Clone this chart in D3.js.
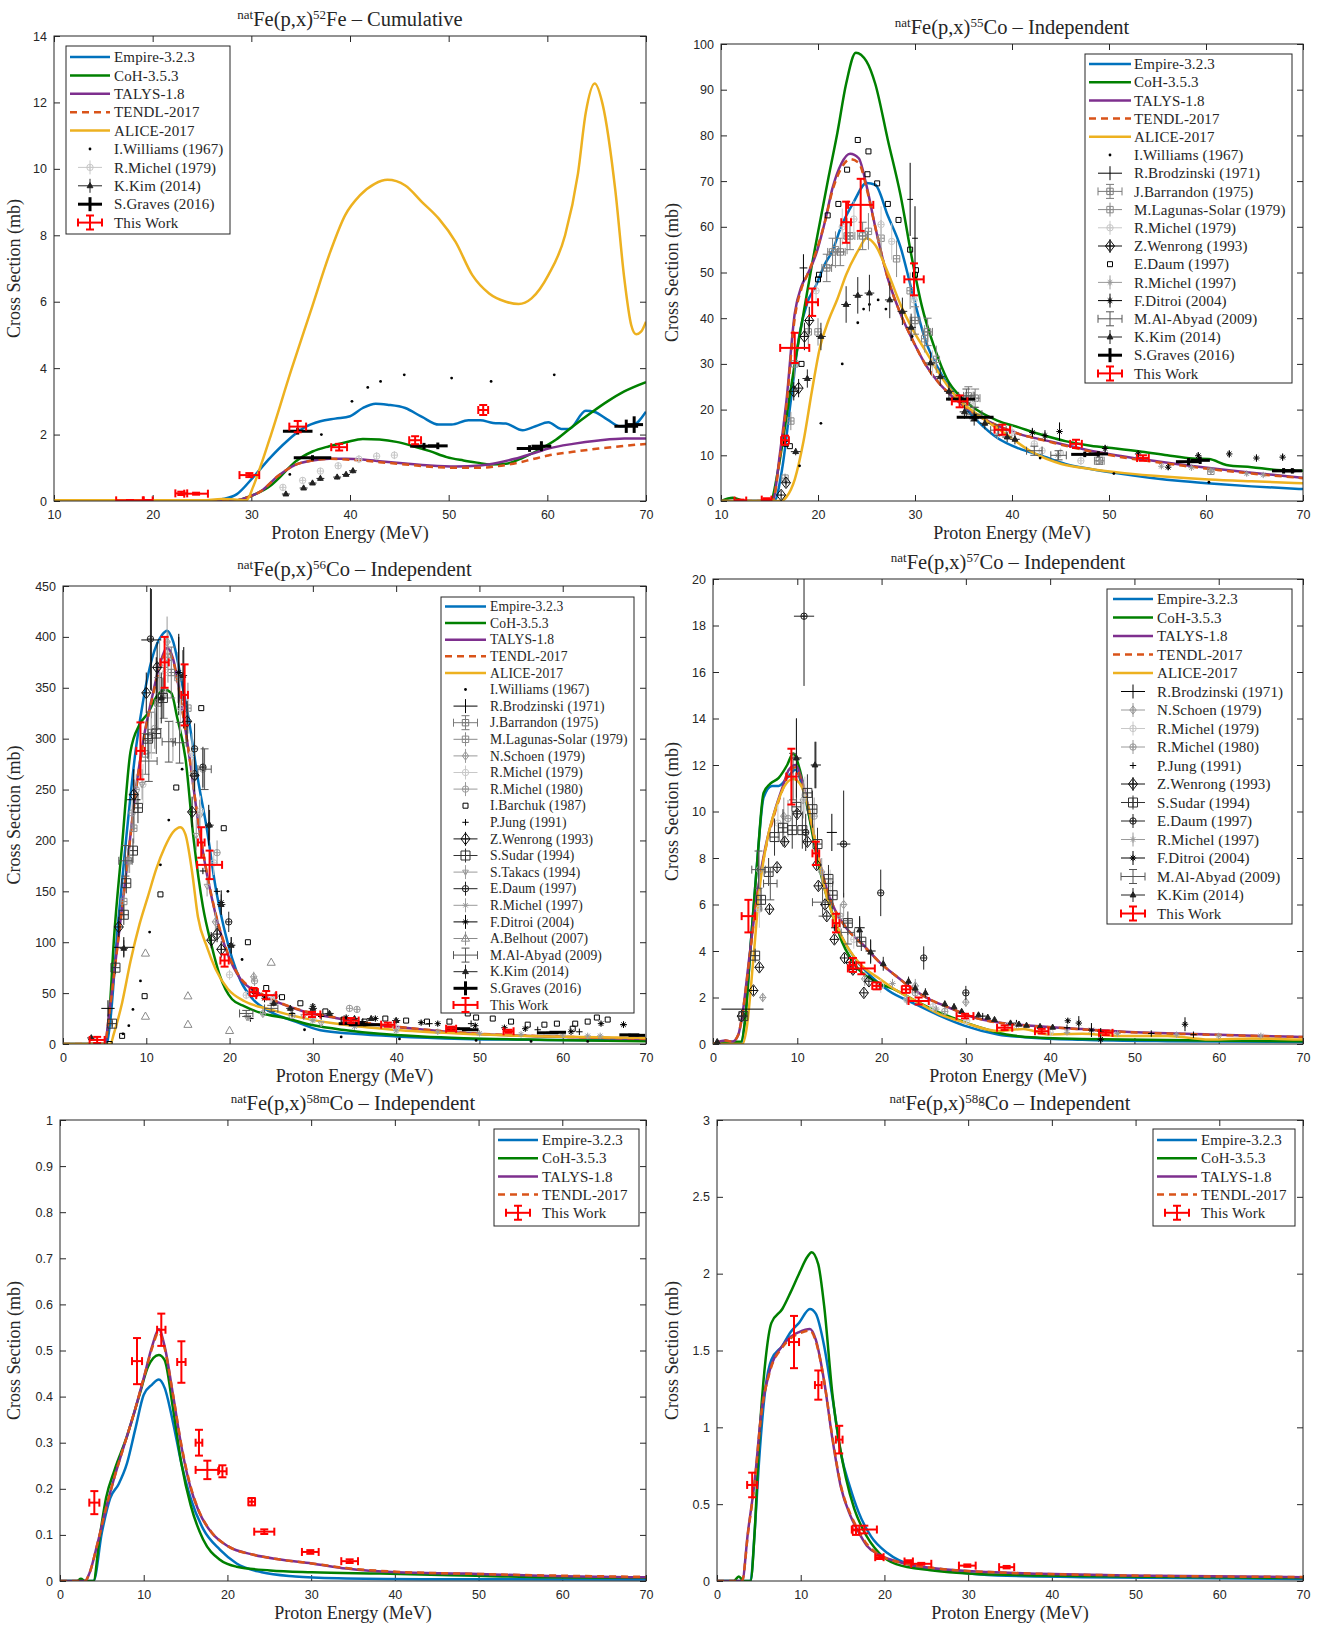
<!DOCTYPE html>
<html>
<head>
<meta charset="utf-8">
<script src="https://cdn.jsdelivr.net/npm/d3@7"></script>
<style>
body { margin: 0; background: #fff; }
text { font-family: "Liberation Serif", "Times New Roman", serif; fill: #262626; }
.tick text { font-family: "Liberation Sans", Arial, sans-serif; font-size: 12.5px; fill: #262626; }
.tick line { stroke: #262626; }
</style>
</head>
<body>
<svg id="fig" width="1323" height="1625"></svg>
<script>
// ---------- model curves: [energy MeV, cross section mb] ----------
const fe52Empire = [[10,0],[26,0],[27,0.05],[28.5,0.2],[30.2,0.72],[31.9,1.3],[33.6,1.8],[35.3,2.2],[37,2.4],[38.5,2.48],[40,2.55],[41.3,2.8],[42.6,2.93],[43.8,2.9],[45.6,2.8],[47.3,2.53],[49,2.3],[50.3,2.3],[52,2.43],[53.2,2.43],[54.5,2.35],[55.8,2.33],[57.5,2.13],[58.8,2.25],[60.1,2.37],[61.4,2.17],[62.2,2.17],[63.9,2.72],[64.8,2.68],[66.1,2.45],[67.4,2.25],[68.6,2.27],[70,2.69]];
const fe52CoH = [[10,0],[28,0],[29,0.05],[30.2,0.18],[31.9,0.45],[33,0.75],[34.4,1.17],[36.2,1.49],[37.9,1.65],[39.6,1.77],[41.3,1.87],[43,1.85],[44.7,1.78],[46.4,1.65],[48.1,1.5],[49.8,1.32],[51.5,1.22],[53.2,1.14],[54.1,1.1],[55.8,1.12],[57.5,1.3],[59.2,1.55],[60.9,1.85],[62.6,2.25],[64.4,2.65],[66.1,3.0],[67.8,3.3],[70,3.58]];
const fe52Talys = [[10,0],[28,0],[29.5,0.1],[31,0.3],[32.7,0.75],[34.4,1.08],[36.2,1.22],[37.9,1.27],[39.6,1.27],[41.3,1.25],[43,1.2],[45.6,1.13],[48.1,1.07],[50.7,1.04],[53.2,1.07],[55,1.15],[56.7,1.27],[58.4,1.42],[60.1,1.58],[62.6,1.72],[65.2,1.82],[67.8,1.88],[70,1.88]];
const fe52Tendl = [[10,0],[28,0],[29.5,0.1],[31,0.3],[32.7,0.75],[34.4,1.08],[36.2,1.22],[37.9,1.27],[39.6,1.25],[41.3,1.22],[43,1.17],[45.6,1.1],[48.1,1.03],[50.7,1.0],[53.2,1.0],[55,1.05],[57,1.15],[58.4,1.25],[60.1,1.37],[62.6,1.48],[65.2,1.58],[67.8,1.66],[70,1.72]];
const fe52Alice = [[10,0.02],[25,0.02],[27,0.06],[28.5,0.04],[29.5,0.02],[30.2,0.44],[31,1.1],[32,2.0],[34,3.9],[36,5.7],[38,7.5],[39.5,8.6],[41,9.2],[42.5,9.55],[43.8,9.67],[45.6,9.5],[47.3,9.0],[49,8.5],[50.7,7.8],[52.4,6.8],[54.1,6.25],[55.8,6.0],[57.1,5.93],[58.4,6.1],[60.1,6.8],[61.8,8.0],[63.1,9.85],[63.9,11.7],[64.8,12.57],[65.6,11.95],[66.9,9.33],[67.8,6.7],[68.5,5.3],[69,5.02],[69.5,5.1],[70,5.4]];

const co55Empire = [[10,0],[15.5,0],[16.3,7],[17.2,22],[18.1,36.6],[18.9,43.4],[19.8,47.2],[20.7,51.8],[21.5,54.8],[22.4,60.1],[23.7,65.5],[25,69.6],[25.9,69.2],[27.2,62.4],[28.5,55.6],[29.8,45],[31.1,35],[32.4,29],[34.2,22.9],[36.4,17.6],[38.5,13.8],[40.7,11.5],[42.9,10],[45.5,8.1],[48.1,7],[50.7,6.1],[54.2,5.1],[57.7,4.3],[61.2,3.7],[64.7,3.2],[70,2.6]];
const co55CoH = [[10,0],[11.2,0.7],[12.5,0],[15.1,0],[15.9,7],[16.75,18.4],[17.6,30],[18.5,41],[19.4,52],[20.2,61],[21.1,71],[22,80.6],[22.9,91.3],[23.9,98.1],[25,96.2],[25.9,91.3],[27.2,79],[28.5,67],[29.8,51.8],[30.7,42.7],[32,33.6],[33.3,26.7],[34.6,23],[36.4,19.9],[38.5,17.6],[40.7,16.1],[42.9,14.6],[45.5,13.1],[48.1,12.1],[50.7,11.5],[53.4,10.8],[56,10],[58.6,9.3],[60.3,9.2],[62.1,7.9],[64.7,7.4],[67.3,6.8],[70,6.6]];
const co55Talys = [[10,0],[15.3,0],[16.1,10.8],[16.75,22],[17.6,41],[18.3,47],[18.9,49.5],[19.8,54],[20.7,61],[21.5,68.5],[22.4,73.8],[23.3,76],[24.2,75],[25,69],[25.9,60],[27.2,48.7],[28.5,41],[29.8,35],[31.1,29.8],[32.4,26],[34.2,22.2],[36.4,18.8],[38.5,16.5],[40.7,14.7],[43.8,13.1],[47.3,11.4],[50.7,10],[54.2,8.9],[57.7,7.9],[61.2,7],[64.7,6.2],[70,5.1]];
const co55Tendl = [[10,0],[15.3,0],[16.1,10],[16.75,21],[17.6,40],[18.3,46.5],[18.9,49.5],[19.8,54.5],[20.7,61],[21.5,68],[22.4,72.8],[23.3,74.8],[24.2,74],[25,68.5],[25.9,60],[27.2,48.7],[28.5,41],[29.8,35],[31.1,29.8],[32.4,26],[34.2,22.2],[36.4,18.8],[38.5,16.5],[40.7,14.7],[43.8,13],[47.3,11.2],[50.7,9.8],[54.2,8.7],[57.7,7.7],[61.2,6.8],[64.7,6.0],[70,5.0]];
const co55Alice = [[10,0],[16.2,0],[16.75,0.9],[17.6,4.7],[18.5,13],[19.4,24.4],[20.2,33.6],[21.1,39.6],[22,44.2],[22.9,49.5],[24.2,55],[25,57.5],[25.9,56],[27.2,50],[28.5,43],[29.8,37.4],[31.1,32.8],[32.4,28.2],[34.2,22.9],[36.8,18.4],[39.4,14.6],[42,10.8],[45.1,8.1],[48.1,7],[51.6,6.1],[56,5.3],[60.3,4.7],[64.7,4.3],[70,3.9]];

const co56Empire = [[0,0],[5.2,0],[5.6,17],[6.6,118],[7.6,203],[8.7,287],[9.7,341],[10.7,379],[11.9,402],[12.5,406],[13.2,396],[14.2,358],[15.2,314],[16.2,260],[17.3,210],[18.3,155],[19.3,115],[20.3,84.5],[21.3,62.5],[22.8,44],[24.8,32],[27.9,22],[30.9,13.5],[35,10],[40,7.4],[48.1,5],[58.2,4],[70,3.4]];
const co56CoH = [[0,0],[5.0,0],[5.6,34],[6.1,101],[7.1,196],[8.1,287],[9.2,314],[10.2,325],[11.2,341],[12.2,348],[13,345],[13.7,321],[14.7,281],[15.7,200],[16.8,135],[17.8,98],[18.8,68],[20.3,44],[21.8,37],[23.8,30.4],[26.9,25],[29.9,18.6],[34,13.5],[38,10],[43.1,7.4],[48.1,5.7],[58.2,4],[70,2.7]];
const co56Talys = [[0,0],[5.0,0],[5.6,34],[6.6,101],[7.6,169],[8.7,247],[9.7,301],[10.7,341],[11.7,375],[12.5,389],[13.2,379],[14.2,335],[15.2,281],[16.2,220],[17.3,166],[18.3,128],[19.8,88],[21.3,64],[23.3,51],[25.9,40.6],[28.9,32],[32.9,25.4],[38,18.6],[43.1,14.2],[48.1,10.8],[58.2,7.4],[70,5]];
const co56Tendl = [[0,0],[5.0,0],[5.6,33],[6.6,100],[7.6,168],[8.7,245],[9.7,300],[10.7,339],[11.7,372],[12.5,386],[13.2,377],[14.2,334],[15.2,281],[16.2,221],[17.3,167],[18.3,129],[19.8,89],[21.3,65],[23.3,52],[25.9,41],[28.9,32.5],[32.9,25.8],[38,19],[43.1,14.5],[48.1,11],[58.2,7.6],[70,5.2]];
const co56Alice = [[0,0],[5.7,0],[6.1,10],[7.1,40.6],[8.1,81],[9.2,118],[10.2,145],[11.2,172],[12.2,193],[13.2,208],[14.1,213],[14.7,206],[15.5,169],[16.2,125],[17.3,95],[18.3,74],[19.8,54],[21.8,42],[24.8,34],[28.9,25.4],[34,18.6],[40.5,13.5],[48.1,10],[58.2,7.4],[70,6]];

const co57Empire = [[0,0],[3.3,0],[3.8,1.0],[4.5,4.4],[5.3,8.1],[6,10.6],[7,11.1],[7.8,11.1],[8.8,11.45],[9.8,11.8],[10.5,11.2],[11.3,10],[12.3,8.3],[13.3,6.8],[14.3,5.45],[15.3,4.6],[16.8,3.7],[18.8,2.9],[20.8,2.3],[23.8,1.75],[26.8,1.23],[29.8,0.79],[33.8,0.41],[37.8,0.27],[43.8,0.18],[53.9,0.12],[70,0.09]];
const co57CoH = [[0,0],[2,0.1],[3.3,0.1],[3.8,1.0],[4.5,4.4],[5.3,8.1],[6,10.8],[6.8,11.2],[7.8,11.45],[8.8,12],[9.5,12.5],[10.3,11.8],[11.3,10],[12.3,8.1],[13.3,6.6],[14.3,5.45],[15.3,4.4],[16.3,3.7],[17.3,3.2],[18.3,2.9],[19.8,2.6],[21.8,2.3],[23.8,1.9],[26.3,1.45],[28.8,1.08],[31.8,0.7],[34.8,0.41],[38.8,0.27],[43.8,0.22],[48.8,0.19],[58.9,0.15],[70,0.12]];
const co57Talys = [[0,0],[1.5,0.15],[2.3,0.1],[3,0.4],[3.5,1.3],[4.3,3.7],[5.3,6.6],[6.3,8.6],[7.3,10],[8.3,11.1],[9,11.8],[9.8,12],[10.5,11.4],[11.3,10.2],[12.3,8.4],[13.3,6.9],[14.3,5.9],[15.8,5.0],[17.8,4.27],[19.8,3.5],[21.8,2.9],[23.8,2.34],[25.8,1.9],[27.8,1.6],[30.8,1.16],[33.8,0.93],[37.8,0.79],[43.8,0.64],[48.8,0.53],[58.9,0.41],[70,0.3]];
const co57Tendl = [[0,0],[1.5,0.15],[2.3,0.1],[3,0.4],[3.5,1.3],[4.3,3.6],[5.3,6.5],[6.3,8.5],[7.3,9.9],[8.3,11.0],[9,11.7],[9.8,11.9],[10.5,11.3],[11.3,10.1],[12.3,8.4],[13.3,6.9],[14.3,5.9],[15.8,5.0],[17.8,4.25],[19.8,3.5],[21.8,2.9],[23.8,2.33],[25.8,1.9],[27.8,1.6],[30.8,1.16],[33.8,0.92],[37.8,0.78],[43.8,0.63],[48.8,0.52],[58.9,0.4],[70,0.3]];
const co57Alice = [[0,0],[3.5,0],[4,0.7],[4.8,3.7],[5.5,6.6],[6.5,8.9],[7.5,10.2],[8.5,11.1],[9.5,11.4],[10.3,11.2],[11.3,10.2],[12.3,8.4],[13.3,6.6],[14.3,5.45],[15.3,4.6],[17.3,3.5],[19.8,2.8],[21.8,2.3],[23.8,1.9],[26.8,1.3],[29.8,0.93],[33.8,0.56],[36.8,0.64],[39.8,0.41],[43.8,0.44],[48.8,0.34],[53.9,0.34],[58.9,0.19],[63.9,0.24],[70,0.19]];

const co58mEmpire = [[0,0],[4,0],[5,0.105],[6,0.18],[7,0.21],[8,0.255],[9,0.33],[10,0.404],[11,0.426],[11.8,0.437],[12.5,0.419],[13.5,0.344],[14.5,0.255],[15.6,0.18],[17.1,0.113],[19.1,0.068],[21.1,0.038],[24.1,0.019],[28.1,0.01],[33.2,0.006],[43.2,0.004],[70,0.003]];
const co58mCoH = [[0,0],[2,0],[2.5,0.005],[3,0],[4,0],[4.7,0.09],[5.5,0.18],[6.5,0.24],[8,0.314],[9.5,0.404],[10.5,0.464],[11.8,0.49],[12.5,0.479],[13.5,0.374],[14.5,0.255],[15.6,0.165],[17.1,0.09],[19.1,0.046],[21.1,0.031],[25.1,0.023],[30.1,0.019],[38.2,0.016],[48.3,0.012],[58.3,0.008],[70,0.007]];
const co58mTalys = [[0,0],[3,0],[3.5,0.016],[4.5,0.083],[5.5,0.158],[6.5,0.225],[8,0.314],[9,0.374],[10,0.44],[11,0.509],[11.8,0.546],[12.5,0.509],[13.5,0.404],[14.5,0.292],[15.6,0.202],[16.6,0.15],[18.1,0.105],[20.1,0.075],[23.1,0.057],[26.1,0.047],[30.1,0.038],[34.2,0.027],[40.2,0.019],[48.3,0.016],[58.3,0.011],[70,0.008]];
const co58mTendl = [[0,0],[3,0],[3.5,0.016],[4.5,0.083],[5.5,0.158],[6.5,0.225],[8,0.314],[9,0.374],[10,0.44],[11,0.505],[11.8,0.54],[12.5,0.505],[13.5,0.404],[14.5,0.295],[15.6,0.205],[16.6,0.152],[18.1,0.106],[20.1,0.075],[23.1,0.057],[26.1,0.047],[30.1,0.038],[34.2,0.028],[40.2,0.02],[48.3,0.016],[58.3,0.012],[70,0.009]];

const co58gEmpire = [[0,0],[4,0],[4.5,0.32],[5,0.76],[5.8,1.26],[6.5,1.44],[7.8,1.53],[8.8,1.62],[9.8,1.68],[11.1,1.77],[11.8,1.74],[12.8,1.53],[13.8,1.19],[14.8,0.83],[15.9,0.61],[16.9,0.45],[18.4,0.29],[20.4,0.18],[23.4,0.1],[28.5,0.058],[33.5,0.036],[43.6,0.025],[70,0.013]];
const co58gCoH = [[0,0],[2,0],[2.6,0.03],[3.2,0],[4,0],[4.5,0.32],[5,0.88],[5.8,1.44],[6.5,1.68],[7.8,1.77],[8.8,1.88],[9.8,2.0],[10.8,2.11],[11.3,2.14],[12.1,2.06],[12.8,1.79],[13.8,1.21],[14.6,0.9],[15.4,0.67],[16.4,0.47],[17.4,0.34],[19.4,0.18],[21.4,0.11],[25.5,0.07],[30.5,0.047],[38.6,0.036],[48.7,0.03],[70,0.02]];
const co58gTalys = [[0,0],[3,0],[3.7,0.32],[4.5,0.65],[5.3,1.1],[6.3,1.37],[7.8,1.53],[8.8,1.59],[9.8,1.62],[11.1,1.64],[11.8,1.57],[12.8,1.3],[13.8,0.92],[14.8,0.61],[15.9,0.43],[16.9,0.32],[17.9,0.23],[19.4,0.17],[22.4,0.114],[26.5,0.08],[32.5,0.058],[38.6,0.047],[48.7,0.036],[70,0.025]];
const co58gTendl = [[0,0],[3,0],[3.7,0.31],[4.5,0.64],[5.3,1.09],[6.3,1.36],[7.8,1.52],[8.8,1.58],[9.8,1.61],[11.1,1.63],[11.8,1.56],[12.8,1.3],[13.8,0.93],[14.8,0.62],[15.9,0.44],[16.9,0.33],[17.9,0.24],[19.4,0.17],[22.4,0.115],[26.5,0.08],[32.5,0.058],[38.6,0.047],[48.7,0.036],[70,0.026]];

// ---------- measurements: [E, sigma, dSigma, dE] ----------
const fe52Williams = [[33.9,0.8],[37.1,2.0],[40.2,3.0],[41.8,3.42],[43.1,3.6],[45.5,3.8],[50.3,3.7],[54.3,3.6],[60.7,3.8]];
const fe52Michel79 = [[33.2,0.41,0.08],[35.2,0.62,0.08],[37.0,0.9,0.1],[38.8,1.06,0.1],[40.9,1.26,0.12],[42.7,1.35,0.12],[44.5,1.38,0.12]];
const fe52Kim = [[33.5,0.21,0.05,0.4],[35.3,0.39,0.05,0.4],[36.2,0.54,0.06,0.4],[37.0,0.68,0.07,0.4],[38.7,0.72,0.07,0.4],[39.6,0.8,0.07,0.4],[40.3,0.91,0.08,0.4]];
const fe52Graves = [[34.7,2.1,0.1,1.5],[36.2,1.3,0.08,1.9],[47.5,1.65,0.1,1.4],[48.9,1.66,0.1,1.0],[58.2,1.58,0.1,1.3],[59.4,1.65,0.15,1.0],[68.0,2.25,0.2,1.2],[68.8,2.3,0.25,0.9]];
const fe52ThisWork = [[17.7,0.02,0.01,1.4],[19.5,0.02,0.01,0.5],[22.9,0.23,0.05,0.6],[24.4,0.22,0.03,1.2],[29.8,0.78,0.06,1.0],[34.7,2.24,0.17,0.85],[38.9,1.62,0.1,0.8],[46.6,1.83,0.12,0.6],[53.5,2.74,0.15,0.5]];

const co55Williams = [[18.1,7.7],[20.3,17],[22.5,30],[24.1,39],[24.7,42],[25.3,43],[26.2,44],[27,42],[29.7,36],[42.9,9.4],[50.5,6],[60.3,4.1]];
const co55Brodzinski = [[18.5,51,3,0.4],[29.5,66,8,0.3],[30.0,57.5,7,0.3]];
const co55Barrandon = [[20.9,51,3,0.5],[21.5,54.5,3,0.5],[22.3,54.5,3,0.5],[23.3,58,3,0.5],[24.6,58,3,0.5],[30,39.5,3,0.5],[31.3,37,3,0.5],[35.5,23,2,0.5],[36.2,22.5,2,0.5],[49,8.8,0.8,0.5]];
const co55Lagunas = [[16.6,5,1],[17.2,17.5,2],[17.6,30,3],[19,37,3],[20,37,3],[21.8,55,4],[23,58,4],[25.2,59,4],[26.5,57.5,4],[28.1,53,4],[29.5,46,4],[31,35.5,3],[32.2,31,3],[60.5,6.5,0.5]];
const co55Michel79 = [[19.8,46,3],[22.5,60,4],[23.7,61.7,4],[26.5,60.5,4],[27.6,56.8,4],[29.9,44,3],[31.8,30,3],[36,22,2],[40,15,1.5],[42.3,12.5,1],[43.1,11,1],[45,10.5,1],[47.1,8.8,1]];
const co55Wenrong = [[16.2,1.3,0.2],[16.7,4,0.4],[17.5,24,2],[18.0,24.7,2],[18.6,36,3],[19.1,39.5,3]];
const co55Daum = [[16.7,12.5],[17.1,12],[18.3,30],[20.0,48.5],[20.1,49.5],[21.0,62.5],[22.1,65],[23.0,72.5],[24.1,79],[25.1,71.5],[25.2,76.5],[26.1,69.5],[27.2,65],[28.3,61.5],[29.5,55],[30.0,49.5],[30.1,50.5]];
const co55Michel97 = [[38.5,14.5,1],[44.7,10,1],[49.1,8.7,0.7],[55.4,7.6,0.6],[58.5,7.3,0.6],[60.5,6.6,0.5],[64.2,6,0.5],[65.9,5.7,0.5]];
const co55Ditroi = [[42.1,15,1],[43.4,14.3,1.2],[44.9,15.2,2],[49.6,11.5,0.8],[53,10.3,0.8],[56.1,7.4,0.6],[59.2,9.9,0.8],[62.4,10.3,0.8],[65.2,9.4,0.8],[67.9,9.6,0.8]];
const co55AlAbyad = [[35.3,23,1.5,0.8],[36.1,19,1.5,0.8],[38.6,15.5,1.2,0.8],[42.3,11,1,0.8],[44.8,10,1,0.8]];
const co55Kim = [[17.7,10.8,0.8,0.5],[18.9,26.8,2,0.5],[20.3,36,3,0.5],[22.9,43,4,0.5],[24.1,45,4,0.5],[25.3,45.5,4,0.5],[27.4,44,4,0.5],[28.7,41.5,3,0.5],[29.6,38,3,0.5],[31.6,30.2,2.5,0.5],[32.6,27.2,2,0.5],[33.5,24,2,0.5],[35.1,19.5,1.5,0.5],[36.1,18,1.5,0.5],[37.2,17,1.3,0.5],[39.5,14,1.1,0.5],[40.3,13.5,1.1,0.5]];
const co55Graves = [[34.7,22.3,0.8,1.5],[36.2,18.3,0.8,1.9],[47.5,10.2,0.6,1.4],[48.9,10.3,0.6,1.0],[58.2,8.6,0.8,1.3],[59.4,8.9,0.8,1.0],[68.0,6.6,0.6,1.2],[68.9,6.6,0.6,1.0]];
const co55ThisWork = [[12.0,0.1,0.2,0.6],[14.7,0.3,0.3,0.5],[16.6,13.3,1,0.4],[17.6,33.5,3.3,1.5],[19.4,43.5,3,0.6],[22.9,61,4.5,0.5],[24.4,64.8,5.7,1.3],[29.9,48.5,3.5,1.0],[34.6,21.8,1.3,0.8],[39.0,15.6,1.1,0.8],[46.6,12.5,0.9,0.6],[53.5,9.4,0.6,0.6]];

const co56Williams = [[7.2,10],[7.9,18],[8.4,34],[9.3,62],[10.4,110],[11.7,176],[12.7,220],[14.3,270],[19.8,150],[21.5,83],[29,14],[33.4,7],[40.4,5],[49.6,3.5],[56.2,2.5],[63,2.5]];
const co56Brodzinski = [[10.6,397,50,1.2],[11.2,340,40],[13.9,363,40],[14.5,350,40],[8.5,240,30,0.8],[7.3,95,10,1.2],[5.4,35,8,0.8]];
const co56Barrandon = [[9.9,285,20],[10.6,306,20],[11.4,335,25],[12.1,345,25],[13,365,25]];
const co56Lagunas = [[7.3,140,10],[7.8,180,12],[8.5,212,15],[12.6,380,25],[13.8,360,25],[15,330,25]];
const co56Schoen = [[11.6,372,25],[12.5,395,25],[16.4,225,15],[18.3,120,10],[22.9,66,5],[24.0,30,3],[25.5,47,4]];
const co56Michel79 = [[9.6,255,20],[10.6,300,20],[12.3,365,25],[14.1,330,25],[15.5,285,20],[16.5,229,15],[18.1,178,12],[20,68,5],[22,48,4],[25,45,4],[30,25,2],[35,20,2],[40,16,1.5]];
const co56Michel80 = [[8.3,227,15],[8.8,250,15],[11,310,20],[16.8,270,20],[18.5,188,12],[23,62,5],[27.5,28,3],[34.4,35,3],[35.3,34,3]];
const co56Barchuk = [[5.6,0],[7.1,8],[9.8,47],[11.7,147],[13.6,252],[16.6,330],[19.3,212],[22.2,100],[23.0,52],[24.4,55],[26.3,46],[28.5,40],[31.5,32],[33.7,24],[36.2,22],[38.7,25],[41.2,23],[43.7,22],[46.4,22],[48.6,30],[49.6,26],[51.6,25],[53.8,22],[55.8,19],[57.8,19],[59.3,20],[61.2,15],[61.5,20],[63,22],[64.1,26],[65.4,24]];
const co56Jung = [[16.8,170],[18.5,150],[22.5,25],[27.5,30],[31,27],[36,22],[44,20],[49,20],[57,14],[62,12],[67.3,19]];
const co56Wenrong = [[6.7,115,10],[8.5,245,15],[10.0,345,20],[11.3,370,25],[14.9,317,20],[15.5,228,15],[15.8,264,15],[17.8,102,8],[18.5,108,8],[19,93,8]];
const co56Sudar = [[5.9,20,3],[6.3,75,6],[7.3,127,10],[7.6,158,10],[8.4,190,12],[9.0,232,15],[10.2,300,20],[11.2,305,20],[12.0,340,20]];
const co56Takacs = [[8.0,180,12],[9.5,255,15],[13.2,298,20],[15.6,265,15],[16.0,205,15],[17.3,155,10],[22.1,26,3],[28.9,27,3],[31,20,2]];
const co56Daum = [[10.5,398,50],[15.8,290,25],[16.8,272,20],[19.9,120,10],[15.8,263,15]];
const co56Michel97 = [[22.3,26,3],[30,23,2],[35,17,2],[40,13,1.5],[45,12,1],[50,10.5,1],[55,9.5,1],[60,9,1],[63,8,1],[64.5,8,1]];
const co56Ditroi = [[13.9,365,35],[17.5,215,20],[19.0,139,12],[20.2,97,8],[24.2,45,4],[30,37,3],[34,26,2],[37.5,25,2],[40,23,2],[43,21,2],[45,20,2],[49.5,18,2],[53,16,2],[55.5,15,2],[61,12,1],[64.6,20,2],[67.3,19,2]];
const co56Belhout = [[9.9,89],[9.9,27],[15,47],[15,19],[20,13],[25,80]];
const co56AlAbyad = [[7.5,180,15,0.8],[10.3,278,20,1],[12.7,297,20,0.8],[14.0,296,20,0.8],[17.0,270,20,0.8],[22,30,3,0.8],[25,35,3,0.8]];
const co56Kim = [[3.4,6,3,0.5],[7.3,94,8,0.5],[11.8,340,25,0.5],[14.4,362,25,0.5],[17.6,215,15,0.5],[19.0,137,10,0.5],[20.2,97,8,0.5],[25.3,40,3,0.5],[27.3,35,3,0.5],[30,35,3,0.5],[32,30,2,0.5],[35,25,2,0.5],[37,25,2,0.5],[40,23,2,0.5]];
const co56Graves = [[34.7,20,1.5,1.6],[36.2,19,1.5,1.9],[47.5,15,1.2,1.4],[48.9,14,1.2,1.0],[58.2,11,1,1.3],[59.4,11.5,1,1.0],[68,9,1,1.2],[68.9,8.5,1,1.0]];
const co56ThisWork = [[4.1,4,3,0.9],[9.3,288,28,0.5],[12.2,375,25,0.5],[14.6,343,30,0.4],[16.6,198,15,0.4],[17.6,176,14,1.5],[19.4,82,6,0.5],[22.9,51,4,0.5],[24.4,48,4,1.2],[29.9,29,2.5,1.0],[34.6,23,2.5,0.9],[39.0,19,2,0.8],[46.6,15,2,0.6],[53.5,12.5,1.5,0.6]];

const co57Brodzinski = [[3.5,1.5,0,2.5],[12.2,12.0,1.0,0.6],[14.1,9.1,0.8,0.6],[17.4,5.0,0.5,0.6],[18.7,4.0,0.5,0.6],[9.9,12.3,1.7,0.6]];
const co57Schoen = [[5.9,2.0,0.2],[8.4,9.8,0.8],[10.7,10.5,0.8],[12.9,7.4,0.6],[15.5,6.0,0.5],[18,2.8,0.3],[24,2.5,0.3],[30,1.8,0.2]];
const co57Michel79 = [[5.5,5.8,0.8],[7.7,9.5,0.8],[10.9,10.7,0.8],[13.9,6.9,0.6],[16.7,4.5,0.4],[19.9,2.5,0.3],[23,1.9,0.2],[26.1,1.6,0.2],[30.1,1.0,0.1],[35,0.8,0.1],[40,0.5,0.05]];
const co57Michel80 = [[5.5,7.5,0.8],[8.9,9.7,0.8],[12,9.8,0.8],[15.1,5.5,0.5],[24,2.2,0.2],[27.5,1.4,0.15]];
const co57Jung = [[14.4,5.0],[19.8,2.5],[32,1.2],[36,0.9],[42,0.7],[46,0.55],[52,0.45],[57,0.4]];
const co57Wenrong = [[3.4,1.2],[4.8,2.3],[5.5,3.3],[6.7,5.8],[7.6,7.6],[8.5,8.7],[10.0,9.9],[11.2,8.7],[12.3,7.7],[12.5,6.8],[13.3,6.0],[13.5,5.5],[14.4,4.5],[15.6,3.7],[16.3,3.5],[16.6,3.2],[17.9,2.2],[18.5,2.7]];
const co57Sudar = [[3.6,1.2,0.1],[5.0,3.8,0.3],[5.7,6.2,0.5],[6.6,7.4,0.6],[7.3,8.9,0.8],[8.3,9.3,0.8],[9.4,9.2,0.8],[9.9,10.2,0.8],[10.6,9.2,0.8],[11.2,10.8,0.8],[11.8,10.1,0.8],[12.4,8.6,0.7],[13.7,7.1,0.6],[14.2,6.4,0.6],[16,5.2,0.5],[17.6,4.4,0.4]];
const co57Daum = [[10.8,18.4,3,1.2],[15.5,8.6,2.3,0.8],[19.9,6.5,1],[25.0,3.7,0.5],[30.0,2.2,0.3],[11,9.1,0.8]];
const co57Michel97 = [[21.3,2.6,0.2],[23,1.9,0.2],[26.5,1.5,0.15],[30,1.2,0.1],[36,0.8,0.08],[42,0.5,0.05],[48,0.45,0.05],[55,0.4,0.04],[60,0.35,0.04],[65,0.35,0.04]];
const co57Ditroi = [[42.1,1.0,0.1],[43.4,0.9,0.3],[44.9,0.6,0.3],[46,0.2,0.2],[56,0.85,0.3]];
const co57AlAbyad = [[5.4,7.5,0.8,0.8],[6.8,6.9,0.7,0.8],[9.5,11.5,1,0.8],[13,6.1,0.6,1.2],[16.0,4.8,0.5,0.8]];
const co57Kim = [[0.5,0.1],[9.9,12.3,1.7],[12.1,12,1],[17.4,4.9,0.5],[18.7,3.95,0.5],[20.2,3.45,0.3],[23.2,2.7,0.2],[24.0,2.4,0.2],[25.2,2.2,0.2],[27.5,1.72,0.15],[28.6,1.6,0.15],[29.5,1.4,0.1],[31.5,1.25,0.1],[32.6,1.15,0.1],[33.4,1.05,0.1],[35.3,0.9,0.08],[36.3,0.85,0.08],[37.2,0.8,0.08],[38.8,0.75,0.08],[40.3,0.72,0.07]];
const co57ThisWork = [[4.2,5.5,0.7,0.8],[9.3,11.5,1.2,0.6],[12.2,8.2,0.5,0.4],[14.6,5.2,0.4,0.4],[16.6,3.4,0.3,0.4],[17.6,3.25,0.25,1.6],[19.4,2.5,0.15,0.5],[22.9,2.35,0.15,0.5],[24.4,1.85,0.15,1.2],[29.9,1.2,0.1,1.0],[34.6,0.7,0.1,0.9],[39.0,0.55,0.1,0.8],[46.6,0.48,0.1,0.8]];

const co58mThisWork = [[4.1,0.17,0.025,0.6],[9.2,0.477,0.05,0.6],[12.1,0.545,0.035,0.5],[14.5,0.475,0.045,0.5],[16.6,0.30,0.028,0.4],[17.6,0.241,0.02,1.4],[19.4,0.238,0.013,0.5],[22.9,0.172,0.008,0.4],[24.4,0.107,0.005,1.2],[29.9,0.063,0.004,1.0],[34.6,0.043,0.004,1.0]];
const co58gThisWork = [[4.2,0.625,0.08,0.6],[9.2,1.555,0.17,0.6],[12.1,1.275,0.095,0.4],[14.6,0.92,0.09,0.4],[16.6,0.33,0.03,0.4],[17.6,0.335,0.025,1.5],[19.4,0.155,0.012,0.5],[22.9,0.127,0.008,0.5],[24.4,0.112,0.006,1.2],[29.9,0.1,0.008,1.0],[34.6,0.09,0.008,0.9]];

// ---------- styles ----------
const modelStyle = {
  empire: { label: 'Empire-3.2.3', color: '#0072BD' },
  coh:    { label: 'CoH-3.5.3',    color: '#008000' },
  talys:  { label: 'TALYS-1.8',    color: '#7E2F8E' },
  tendl:  { label: 'TENDL-2017',   color: '#D95319', dash: '7,5' },
  alice:  { label: 'ALICE-2017',   color: '#EDB120' }
};

const expStyle = {
  williams:   { label: 'I.Williams (1967)',      m: 'dot',   c: '#000' },
  brodzinski: { label: 'R.Brodzinski (1971)',    m: 'none',  c: '#000',    err: true },
  barrandon:  { label: 'J.Barrandon (1975)',     m: 'sqx',   c: '#7a7a7a', err: true, cap: true },
  lagunas:    { label: 'M.Lagunas-Solar (1979)', m: 'sqx',   c: '#8a8a8a', err: true },
  schoen:     { label: 'N.Schoen (1979)',        m: 'diax',  c: '#9a9a9a', err: true },
  michel79:   { label: 'R.Michel (1979)',        m: 'circx', c: '#c8c8c8', err: true },
  michel80:   { label: 'R.Michel (1980)',        m: 'circx', c: '#9a9a9a', err: true },
  barchuk:    { label: 'I.Barchuk (1987)',       m: 'sq',    c: '#000',    small: true },
  jung:       { label: 'P.Jung (1991)',          m: 'plus',  c: '#000' },
  wenrong:    { label: 'Z.Wenrong (1993)',       m: 'diax',  c: '#111',    err: true, big: true },
  sudar:      { label: 'S.Sudar (1994)',         m: 'sqx',   c: '#333',    err: true, big: true },
  takacs:     { label: 'S.Takacs (1994)',        m: 'trid',  c: '#9a9a9a', err: true },
  daum:       { label: 'E.Daum (1997)',          m: 'circx', c: '#222',    err: true },
  daumSq:     { label: 'E.Daum (1997)',          m: 'sq',    c: '#000',    small: true },
  michel97:   { label: 'R.Michel (1997)',        m: 'star',  c: '#9a9a9a', err: true },
  ditroi:     { label: 'F.Ditroi (2004)',        m: 'star',  c: '#000',    err: true },
  belhout:    { label: 'A.Belhout (2007)',       m: 'trio',  c: '#8a8a8a', err: true, big: true },
  alabyad:    { label: 'M.Al-Abyad (2009)',      m: 'none',  c: '#555',    err: true, cap: true },
  kim:        { label: 'K.Kim (2014)',           m: 'tri',   c: '#222',    err: true },
  graves:     { label: 'S.Graves (2016)',        m: 'none',  c: '#000',    err: true, thick: true },
  thiswork:   { label: 'This Work',              m: 'none',  c: '#ff0000', err: true, cap: true, red: true }
};

const panels = [
  { id: 1, sup1: 'nat', mid: 'Fe(p,x)', sup2: '52', tail: 'Fe \u2013 Cumulative',
    x0: 54, x1: 646, y0: 36, y1: 501, xd: [10, 70], yd: [0, 14], yt: d3.range(0, 15, 2), ylx: 20,
    models: [['empire', fe52Empire], ['coh', fe52CoH], ['talys', fe52Talys], ['tendl', fe52Tendl], ['alice', fe52Alice]],
    exps: [['williams', fe52Williams], ['michel79', fe52Michel79], ['kim', fe52Kim], ['graves', fe52Graves], ['thiswork', fe52ThisWork]],
    leg: { x: 66, y: 46, w: 164, h: 188, r0: 57, dy: 18.4, l0: 70, l1: 110, tx: 114, fs: 15 } },
  { id: 2, sup1: 'nat', mid: 'Fe(p,x)', sup2: '55', tail: 'Co \u2013 Independent',
    x0: 721, x1: 1303, y0: 44, y1: 501, xd: [10, 70], yd: [0, 100], yt: d3.range(0, 101, 10), ylx: 678,
    models: [['empire', co55Empire], ['coh', co55CoH], ['talys', co55Talys], ['tendl', co55Tendl], ['alice', co55Alice]],
    exps: [['williams', co55Williams], ['brodzinski', co55Brodzinski], ['barrandon', co55Barrandon], ['lagunas', co55Lagunas], ['michel79', co55Michel79],
      ['wenrong', co55Wenrong], ['daumSq', co55Daum], ['michel97', co55Michel97], ['ditroi', co55Ditroi], ['alabyad', co55AlAbyad],
      ['kim', co55Kim], ['graves', co55Graves], ['thiswork', co55ThisWork]],
    leg: { x: 1085, y: 54, w: 207, h: 329, r0: 64, dy: 18.2, l0: 1089, l1: 1131, tx: 1134, fs: 15 } },
  { id: 3, sup1: 'nat', mid: 'Fe(p,x)', sup2: '56', tail: 'Co \u2013 Independent',
    x0: 63, x1: 646, y0: 586, y1: 1044, xd: [0, 70], yd: [0, 450], yt: d3.range(0, 451, 50), ylx: 20,
    models: [['empire', co56Empire], ['coh', co56CoH], ['talys', co56Talys], ['tendl', co56Tendl], ['alice', co56Alice]],
    exps: [['williams', co56Williams], ['brodzinski', co56Brodzinski], ['barrandon', co56Barrandon], ['lagunas', co56Lagunas], ['schoen', co56Schoen],
      ['michel79', co56Michel79], ['michel80', co56Michel80], ['barchuk', co56Barchuk], ['jung', co56Jung], ['wenrong', co56Wenrong],
      ['sudar', co56Sudar], ['takacs', co56Takacs], ['daum', co56Daum], ['michel97', co56Michel97], ['ditroi', co56Ditroi],
      ['belhout', co56Belhout], ['alabyad', co56AlAbyad], ['kim', co56Kim], ['graves', co56Graves], ['thiswork', co56ThisWork]],
    leg: { x: 441, y: 597, w: 193, h: 416, r0: 606.5, dy: 16.6, l0: 445, l1: 486, tx: 490, fs: 13.6 } },
  { id: 4, sup1: 'nat', mid: 'Fe(p,x)', sup2: '57', tail: 'Co \u2013 Independent',
    x0: 713, x1: 1303, y0: 579, y1: 1044, xd: [0, 70], yd: [0, 20], yt: d3.range(0, 21, 2), ylx: 678,
    models: [['empire', co57Empire], ['coh', co57CoH], ['talys', co57Talys], ['tendl', co57Tendl], ['alice', co57Alice]],
    exps: [['brodzinski', co57Brodzinski], ['schoen', co57Schoen], ['michel79', co57Michel79], ['michel80', co57Michel80], ['jung', co57Jung],
      ['wenrong', co57Wenrong], ['sudar', co57Sudar], ['daum', co57Daum], ['michel97', co57Michel97], ['ditroi', co57Ditroi],
      ['alabyad', co57AlAbyad], ['kim', co57Kim], ['thiswork', co57ThisWork]],
    leg: { x: 1107, y: 589, w: 185, h: 335, r0: 599, dy: 18.5, l0: 1113, l1: 1153, tx: 1157, fs: 15 } },
  { id: 5, sup1: 'nat', mid: 'Fe(p,x)', sup2: '58m', tail: 'Co \u2013 Independent',
    x0: 60, x1: 646, y0: 1120, y1: 1581, xd: [0, 70], yd: [0, 1], yt: d3.range(0, 11).map(i => i / 10), ylx: 20,
    models: [['empire', co58mEmpire], ['coh', co58mCoH], ['talys', co58mTalys], ['tendl', co58mTendl]],
    exps: [['thiswork', co58mThisWork]],
    leg: { x: 494, y: 1129, w: 145, h: 97, r0: 1140, dy: 18.2, l0: 498, l1: 538, tx: 542, fs: 15 } },
  { id: 6, sup1: 'nat', mid: 'Fe(p,x)', sup2: '58g', tail: 'Co \u2013 Independent',
    x0: 717, x1: 1303, y0: 1120, y1: 1581, xd: [0, 70], yd: [0, 3], yt: d3.range(0, 7).map(i => i / 2), ylx: 678,
    models: [['empire', co58gEmpire], ['coh', co58gCoH], ['talys', co58gTalys], ['tendl', co58gTendl]],
    exps: [['thiswork', co58gThisWork]],
    leg: { x: 1153, y: 1129, w: 142, h: 97, r0: 1140, dy: 18.2, l0: 1157, l1: 1197, tx: 1201, fs: 15 } }
];

const svg = d3.select('#fig');

// marker shapes drawn around (0,0)
function markerPath(type, r) {
  const circ = `M${r},0A${r},${r} 0 1,1 ${-r},0A${r},${r} 0 1,1 ${r},0`;
  const plus = `M${-r},0H${r}M0,${-r}V${r}`;
  switch (type) {
    case 'sq': return `M${-r},${-r}H${r}V${r}H${-r}Z`;
    case 'sqx': return `M${-r},${-r}H${r}V${r}H${-r}Z` + plus;
    case 'dia': return `M0,${-r * 1.3}L${r},0L0,${r * 1.3}L${-r},0Z`;
    case 'diax': return `M0,${-r * 1.3}L${r},0L0,${r * 1.3}L${-r},0Z` + plus;
    case 'circx': return circ + plus;
    case 'tri': case 'trio': return `M0,${-r}L${r * 0.9},${r * 0.6}L${-r * 0.9},${r * 0.6}Z`;
    case 'trid': return `M0,${r}L${r * 0.9},${-r * 0.6}L${-r * 0.9},${-r * 0.6}Z`;
    case 'plus': return plus;
    case 'star': { const d = r * 0.7; return plus + `M${-d},${-d}L${d},${d}M${-d},${d}L${d},${-d}`; }
    default: return '';
  }
}

function markerSize(st) {
  return st.big ? 4.5 : (st.small ? 2.5 : 3.2);
}

function drawMarker(g, st, px, py, r) {
  if (st.m === 'none') return;
  if (st.m === 'dot') {
    g.append('circle').attr('cx', px).attr('cy', py).attr('r', 1.4).attr('fill', st.c);
    return;
  }
  g.append('path')
    .attr('transform', `translate(${px},${py})`)
    .attr('d', markerPath(st.m, r))
    .attr('fill', st.m === 'tri' ? st.c : 'none')
    .attr('stroke', st.c)
    .attr('stroke-width', 1);
}

function drawPanel(p) {
  const x = d3.scaleLinear().domain(p.xd).range([p.x0, p.x1]);
  const y = d3.scaleLinear().domain(p.yd).range([p.y1, p.y0]);
  const g = svg.append('g');
  const clipId = 'clip' + p.id;

  g.append('clipPath').attr('id', clipId)
    .append('rect')
    .attr('x', p.x0).attr('y', p.y0)
    .attr('width', p.x1 - p.x0).attr('height', p.y1 - p.y0);

  // Axes with inward ticks on all four sides
  const xt = d3.range(p.xd[0], p.xd[1] + 1, 10);
  const axes = g.append('g');
  axes.append('g').attr('transform', `translate(0,${p.y1})`)
    .call(d3.axisBottom(x).tickValues(xt).tickSize(-6).tickSizeOuter(0).tickPadding(9).tickFormat(d => String(d)));
  axes.append('g').attr('transform', `translate(0,${p.y0})`)
    .call(d3.axisTop(x).tickValues(xt).tickSize(-6).tickSizeOuter(0).tickFormat(''));
  axes.append('g').attr('transform', `translate(${p.x0},0)`)
    .call(d3.axisLeft(y).tickValues(p.yt).tickSize(-6).tickSizeOuter(0).tickPadding(7).tickFormat(d => String(d)));
  axes.append('g').attr('transform', `translate(${p.x1},0)`)
    .call(d3.axisRight(y).tickValues(p.yt).tickSize(-6).tickSizeOuter(0).tickFormat(''));
  axes.selectAll('.domain').remove();

  const plot = g.append('g').attr('clip-path', `url(#${clipId})`);

  // Model curves
  const line = d3.line().x(d => x(d[0])).y(d => y(d[1])).curve(d3.curveMonotoneX);
  for (const [key, data] of p.models) {
    const st = modelStyle[key];
    plot.append('path')
      .datum(data)
      .attr('d', line)
      .attr('fill', 'none')
      .attr('stroke', st.color)
      .attr('stroke-width', 2.5)
      .attr('stroke-dasharray', st.dash || null);
  }

  // Measurements
  for (const [key, data] of p.exps) {
    const st = expStyle[key];
    const sw = st.thick ? 3 : (st.red ? 2 : 1);
    const r = markerSize(st);
    for (const d of data) {
      const px = x(d[0]), py = y(d[1]);
      const ds = d[2] || 0, de = d[3] || 0;
      if (ds > 0) {
        plot.append('line').attr('x1', px).attr('x2', px).attr('y1', y(d[1] - ds)).attr('y2', y(d[1] + ds))
          .attr('stroke', st.c).attr('stroke-width', sw);
        if (st.cap) {
          for (const v of [d[1] - ds, d[1] + ds]) {
            plot.append('line').attr('x1', px - 4).attr('x2', px + 4).attr('y1', y(v)).attr('y2', y(v))
              .attr('stroke', st.c).attr('stroke-width', sw);
          }
        }
      }
      if (de > 0) {
        plot.append('line').attr('x1', x(d[0] - de)).attr('x2', x(d[0] + de)).attr('y1', py).attr('y2', py)
          .attr('stroke', st.c).attr('stroke-width', sw);
        if (st.cap) {
          for (const v of [d[0] - de, d[0] + de]) {
            plot.append('line').attr('x1', x(v)).attr('x2', x(v)).attr('y1', py - 4).attr('y2', py + 4)
              .attr('stroke', st.c).attr('stroke-width', sw);
          }
        }
      }
      drawMarker(plot, st, px, py, r);
    }
  }

  // Box
  g.append('rect')
    .attr('x', p.x0).attr('y', p.y0)
    .attr('width', p.x1 - p.x0).attr('height', p.y1 - p.y0)
    .attr('fill', 'none').attr('stroke', '#262626').attr('stroke-width', 1);

  // Title with superscripts
  const cx = (p.x0 + p.x1) / 2;
  const t = g.append('text').attr('x', cx).attr('y', p.y0 - 10)
    .attr('text-anchor', 'middle').style('font-size', '20.5px');
  t.append('tspan').attr('dy', -7).style('font-size', '13px').text(p.sup1);
  t.append('tspan').attr('dy', 7).text(p.mid);
  t.append('tspan').attr('dy', -7).style('font-size', '13px').text(p.sup2);
  t.append('tspan').attr('dy', 7).text(p.tail);

  // Axis labels
  g.append('text').attr('x', cx).attr('y', p.y1 + 38)
    .attr('text-anchor', 'middle').style('font-size', '18px').text('Proton Energy (MeV)');
  g.append('text')
    .attr('transform', `translate(${p.ylx},${(p.y0 + p.y1) / 2}) rotate(-90)`)
    .attr('text-anchor', 'middle').style('font-size', '18px').text('Cross Section (mb)');

  // Legend
  const L = p.leg;
  const lg = g.append('g');
  lg.append('rect').attr('x', L.x).attr('y', L.y).attr('width', L.w).attr('height', L.h)
    .attr('fill', '#fff').attr('stroke', '#262626').attr('stroke-width', 1);
  const entries = p.models.map(m => ({ kind: 'model', key: m[0] }))
    .concat(p.exps.map(e => ({ kind: 'exp', key: e[0] })));
  const mx = (L.l0 + L.l1) / 2;
  entries.forEach((e, i) => {
    const cy = L.r0 + i * L.dy;
    let label;
    if (e.kind === 'model') {
      const st = modelStyle[e.key];
      lg.append('line').attr('x1', L.l0).attr('x2', L.l1).attr('y1', cy).attr('y2', cy)
        .attr('stroke', st.color).attr('stroke-width', 2.5).attr('stroke-dasharray', st.dash || null);
      label = st.label;
    } else {
      const st = expStyle[e.key];
      const sw = st.thick ? 3 : (st.red ? 2 : 1);
      if (st.err) {
        lg.append('line').attr('x1', mx - 12).attr('x2', mx + 12).attr('y1', cy).attr('y2', cy)
          .attr('stroke', st.c).attr('stroke-width', sw);
        lg.append('line').attr('x1', mx).attr('x2', mx).attr('y1', cy - 7).attr('y2', cy + 7)
          .attr('stroke', st.c).attr('stroke-width', sw);
        if (st.cap) {
          lg.append('path')
            .attr('d', `M${mx - 12},${cy - 4}V${cy + 4}M${mx + 12},${cy - 4}V${cy + 4}M${mx - 4},${cy - 7}H${mx + 4}M${mx - 4},${cy + 7}H${mx + 4}`)
            .attr('stroke', st.c).attr('stroke-width', sw).attr('fill', 'none');
        }
      }
      drawMarker(lg, st, mx, cy, markerSize(st));
      label = st.label;
    }
    lg.append('text').attr('x', L.tx).attr('y', cy).attr('dy', '0.35em')
      .style('font-size', L.fs + 'px').style('letter-spacing', '0.15px').text(label);
  });
}

panels.forEach(drawPanel);
</script>
</body>
</html>
